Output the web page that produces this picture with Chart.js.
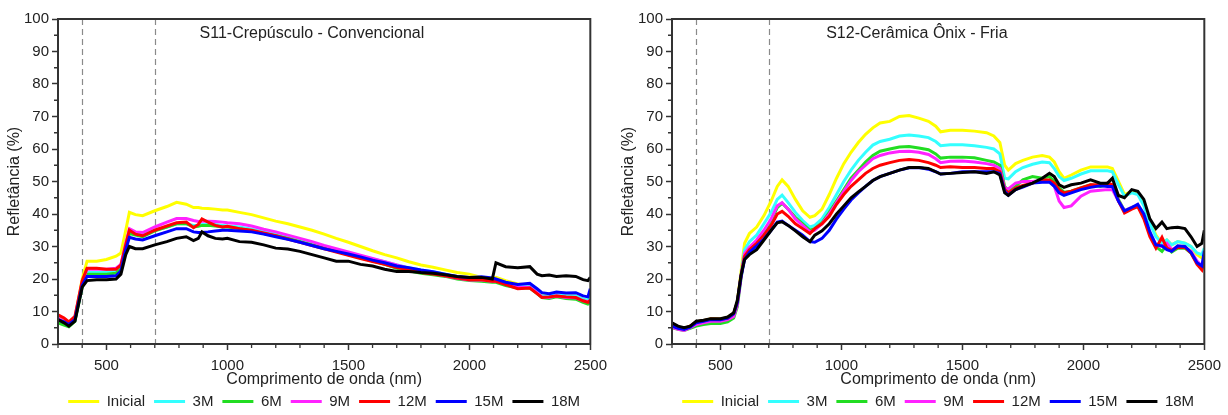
<!DOCTYPE html>
<html>
<head>
<meta charset="utf-8">
<script src="https://cdn.jsdelivr.net/npm/chart.js@4.4.1/dist/chart.umd.min.js"></script>
<style>
  html, body { margin: 0; padding: 0; background: #ffffff; }
  #wrap { display: flex; width: 1228px; height: 415px; }
  .cell { width: 614px; height: 415px; position: relative; }
</style>
</head>
<body>
<div id="wrap">
  <div class="cell"><canvas id="c1" width="614" height="415"></canvas></div>
  <div class="cell"><canvas id="c2" width="614" height="415"></canvas></div>
</div>
<script>
// ---------- DATA ----------
const seriesLabels = ['Inicial', '3M', '6M', '9M', '12M', '15M', '18M'];
const seriesColors = ['#ffff00', '#33ffff', '#22dd22', '#ff22ff', '#ff0000', '#0000ff', '#000000'];
const xTicks = [500, 1000, 1500, 2000, 2500];
const yTicks = [0, 10, 20, 30, 40, 50, 60, 70, 80, 90, 100];
const markerNm = [400, 700];
const titleS11 = 'S11-Crepúsculo - Convencional';
const titleS12 = 'S12-Cerâmica Ônix - Fria';

// S11 wavelengths (nm)
const wlS11 = [300,325,345,370,400,420,460,500,540,560,580,595,620,650,700,750,790,830,860,880,895,920,950,980,1000,1050,1100,1150,1200,1250,1300,1350,1400,1450,1500,1550,1600,1650,1700,1750,1800,1850,1900,1950,2000,2050,2095,2110,2150,2200,2250,2280,2300,2330,2360,2400,2440,2470,2490,2500];
const s11Inicial = [8.5,7.5,6.5,8,20,25.5,25.5,26,27,28,35,40.5,39.8,39.5,41,42.3,43.6,43,42,42,41.8,41.7,41.5,41.2,41.2,40.5,39.8,38.8,37.8,37,36,35,33.8,32.5,31.3,30,28.7,27.5,26.5,25.3,24.3,23.6,22.8,22,21.5,20.5,20.2,20.5,19.5,18.5,18.2,16.5,15.5,15,15.2,14.8,14.8,13.8,13.5,14.5];
const s11M3 = [7.5,6.5,5.8,7.5,18,22,22,22,22.5,23.5,30,34.5,34,33.5,35,36,37,37,36.5,36.5,36.8,36.8,36.8,36.5,36.3,36,35.3,34.5,33.7,33,32,31,30,29,28,27,26.2,25.3,24.3,23.5,22.8,22.2,21.5,20.7,20.2,20,19.7,19.7,18.8,17.8,17.8,16,14.8,14.8,15.2,14.8,14.8,13.8,13.5,14.5];
const s11M6 = [6.5,5.8,5.3,7,17.5,21.5,21.5,21.5,21.8,23,29.5,34,33.5,33,34.8,36,37,37,36,36.2,36.5,36.5,36.3,36,36,35.5,34.8,34,33.3,32.5,31.5,30.5,29.5,28.5,27.5,26.5,25.5,24.5,23.3,22.5,21.8,21.3,20.8,20,19.5,19.3,19,19,18,17.2,17.2,15.5,14.3,14,14.5,14,13.8,12.8,12.3,12.8];
const s11M9 = [8,7,6.2,8,19,23,23,23,23.3,24.5,31,35.5,34.5,34.3,36,37.5,38.6,38.6,38,37.7,37.8,37.8,37.7,37.5,37.3,37,36.3,35.3,34.5,33.5,32.5,31.5,30.3,29.3,28.3,27.3,26.3,25.3,24.3,23.3,22.5,21.8,21,20.2,19.7,19.7,19.3,19.4,18.5,17.5,17.5,15.8,14.5,14.3,14.8,14.3,14.2,13.3,13,13.5];
const s11M12 = [9,8,6.8,8.5,19.5,23.3,23.3,23,23,24.3,30.5,35,33.8,33.3,35,36.3,37.3,37.5,35.8,36.8,38.5,37.5,36.5,36,36.2,35.5,35,34.2,33.3,32.3,31.3,30.3,29.3,28.3,27.3,26.3,25.4,24.5,23.5,22.8,22,21.5,21,20.3,19.8,19.8,19.3,19.3,18.3,17,17.2,15.5,14.3,14.5,14.8,14.5,14.3,13.3,12.8,13.5];
const s11M15 = [7.5,6.8,6,7.5,18,20.8,20.8,20.8,21,22.5,29,32.8,32.3,32,33.3,34.5,35.5,35.5,34.5,34.3,34.3,34.5,34.8,35,35,34.8,34.5,33.8,33,32.2,31.3,30.3,29.3,28.5,27.7,26.8,25.8,25,24,23.5,22.8,22.2,21.5,20.8,20.5,20.7,20.3,20,19,18.3,18.7,17,15.8,15.5,16,15.7,15.8,14.8,14.5,17];
const s11M18 = [7.5,6.5,5.5,7,17.5,19.5,19.8,19.8,20,21.5,27.5,30,29.3,29.3,30.5,31.5,32.5,33,31.8,32.5,34.5,33.3,32.5,32.3,32.5,31.5,31.3,30.5,29.5,29.2,28.5,27.5,26.5,25.5,25.5,24.5,24,23,22.3,22.3,22,21.8,21.3,20.8,20.5,20.5,20,25,23.8,23.5,23.8,21.5,21,21.2,20.8,21,20.8,19.8,19.5,20.5];

// S12 wavelengths (nm)
const wlS12 = [300,325,350,375,400,430,460,500,530,555,570,585,600,620,650,680,710,735,755,780,810,840,870,890,920,950,980,1010,1040,1070,1100,1130,1160,1200,1240,1280,1320,1360,1390,1410,1450,1500,1550,1600,1630,1655,1675,1690,1720,1750,1790,1830,1860,1880,1900,1920,1950,1990,2030,2070,2100,2120,2145,2170,2200,2225,2250,2275,2300,2325,2345,2365,2390,2420,2445,2470,2490,2500];
const s12Inicial = [6,5.2,4.8,5.5,6.8,7.2,7.8,7.7,8.2,9.5,13,22,31,34,36,39.5,44,48.5,50.5,48.5,44.5,41,39,39.5,41.5,46,51,55.5,59,62,64.5,66.5,68,68.5,70,70.3,69.5,68.5,67,65.3,65.8,65.8,65.5,65,64,62,55,53.5,55.5,56.5,57.5,58,57.5,56,53,51,52,53.5,54.5,54.5,54.5,54,50,46,47,46.5,43,38,33.5,31,32,30.5,31.5,31,30,27.5,26.5,29];
const s12M3 = [5.5,4.8,4.5,5.2,6.3,6.8,7.3,7.3,7.8,9,12.5,21,29,31.5,33.5,37,40.5,44.5,45.8,43.5,40.5,38,36,36.5,38.5,42,46,50,53.5,56.5,59,61.2,62.3,63,64,64.3,64,63.5,62.3,61,61.3,61.3,61,60.5,60,58.5,51,50.8,53,54.3,55.3,56,55.8,54,51.5,50.3,51,52.3,53.3,53.3,53.3,53,49,45.5,46.5,46,42.5,37,33,31,32,30.5,31.5,31,30,28,27.5,29.5];
const s12M6 = [5,4.5,4.2,4.8,5.5,6,6.3,6.3,6.8,8,11.5,20,27.5,29.5,31.5,34.5,38,42,43.3,41.5,39,37,35,35.5,37.3,40.5,44,47.5,51,53.5,56,58,59.3,60,60.6,60.8,60.3,59.8,58.5,57.2,57.5,57.5,57.3,56.5,56,55,48.5,47,48.5,50.5,51.5,51,51.5,50,48,46.7,47,48,49,48.5,49,48.5,44.5,41,42,42.5,39.5,34,30,28.5,30.5,28.3,29.5,29.5,28,25,23.5,25.5];
const s12M9 = [5.2,4.5,4.2,5,6,6.5,7,7,7.5,8.5,12,20.5,27.8,29.8,32,35,38.5,42.5,43.5,41.5,38.5,36.5,34.5,35,37,40,43.5,47,50.3,53,55,57,58,58.8,59.2,59.3,59,58.3,57,55.8,56.2,56.3,56,55.5,55,54,48,47.7,49.5,50,50,50.3,50.3,48.5,44,42,42.5,45.5,47,47.3,47.5,47.5,44,41,42,42.5,39.5,34,30.5,30,31,29,30,29.8,28.5,25.5,24,26];
const s12M12 = [6,5.2,4.8,5.5,6.8,7.2,7.7,7.6,8,9.3,12.8,21,27,29,31,33.5,36.5,40,40.8,39.3,37,35.5,34,35.5,37,39.3,43,46,48.5,50.5,52.5,54,55,55.8,56.5,56.8,56.5,55.8,55,54.3,54.5,54.3,54.3,54,54,53,47.5,46.5,48,48.8,49.5,50.5,50.5,49.5,47.5,46.5,47,48,49,49,49.5,49,44,40.3,41.5,42.3,38.5,33,29.5,32.8,29.5,28.8,29.7,29.7,28,24.5,22.8,25.6];
const s12M15 = [5.5,4.8,4.5,5.2,6.5,7,7.5,7.5,8,9.3,12.8,20.5,26,28.2,30.2,32.3,35,37.5,37.8,36.5,35,33.5,31.5,31.3,32.5,35,38.5,41.5,44.3,46.5,48.5,50.3,51.5,52.5,53.5,54.2,54.3,53.8,53,52.3,52.5,53,53,53,53,52.5,47,45.8,47.5,48.3,49.5,49.8,49.8,48.5,46.5,45.7,46.5,47.5,48.2,48.7,48.5,48.5,44,41,42,43,40,34.5,30.5,30.2,29,28.5,30.2,30,28.2,25,24,28.7];
const s12M18 = [6.5,5.5,5,5.5,7,7.3,7.8,7.8,8.3,9.6,13.5,21,26,27.5,29,32,35,37.3,37.6,36.5,34.8,33,31.5,33.5,34.8,37,40,42.5,45,46.8,48.5,50.3,51.5,52.5,53.5,54.3,54.3,54,53,52.3,52.5,52.8,53,52.5,53,52,46.5,45.7,47.5,48.5,49.5,51,52.5,51.5,49,48.2,49,49.5,50.5,49.5,49.5,51,45.7,45,47.5,47,44.5,38.5,35.5,37.5,35.5,35.8,35.9,35.5,33,30,31,35];

// ---------- HELPERS ----------
const toPoints = (xs, ys) => xs.map((x, i) => ({ x: x, y: ys[i] }));

function buildDatasets(xs, seriesList) {
  return seriesList.map((ys, i) => ({
    label: seriesLabels[i],
    data: toPoints(xs, ys),
    borderColor: seriesColors[i],
    backgroundColor: seriesColors[i],
    borderWidth: 3,
    pointRadius: 0,
    tension: 0,
    fill: false,
    order: seriesList.length - i
  }));
}

const FONT = "'Liberation Sans', Arial, sans-serif";
const AXIS_COLOR = '#333333';
const TEXT_COLOR = '#222222';

const frameAndMarkers = {
  id: 'frameAndMarkers',
  beforeDatasetsDraw(chart) {
    const { ctx, chartArea, scales } = chart;
    ctx.save();
    ctx.strokeStyle = '#8a8a8a';
    ctx.lineWidth = 1.2;
    ctx.setLineDash([6, 4]);
    markerNm.forEach(v => {
      const px = Math.round(scales.x.getPixelForValue(v)) + 0.5;
      ctx.beginPath();
      ctx.moveTo(px, chartArea.top);
      ctx.lineTo(px, chartArea.bottom);
      ctx.stroke();
    });
    ctx.restore();
  },
  afterDatasetsDraw(chart) {
    const { ctx, chartArea, scales } = chart;
    ctx.save();
    ctx.strokeStyle = AXIS_COLOR;
    ctx.lineWidth = 2;
    ctx.strokeRect(chartArea.left, chartArea.top, chartArea.right - chartArea.left, chartArea.bottom - chartArea.top);
    // minor ticks
    ctx.lineWidth = 1.3;
    ctx.beginPath();
    for (let v = 300; v <= 2500; v += 100) {
      if (xTicks.includes(v)) continue;
      const px = scales.x.getPixelForValue(v);
      ctx.moveTo(px, chartArea.bottom);
      ctx.lineTo(px, chartArea.bottom + 4);
    }
    for (let v = 5; v < 100; v += 10) {
      const py = scales.y.getPixelForValue(v);
      ctx.moveTo(chartArea.left, py);
      ctx.lineTo(chartArea.left - 4, py);
    }
    ctx.stroke();
    // inner title
    const t = chart.options.plugins.innerTitle;
    ctx.fillStyle = TEXT_COLOR;
    ctx.font = '16px ' + FONT;
    ctx.textAlign = 'center';
    ctx.textBaseline = 'middle';
    ctx.fillText(t.text, chartArea.left + t.frac * (chartArea.right - chartArea.left), chartArea.top + 15);
    ctx.restore();
  }
};

function makeChart(canvasId, xs, seriesList, title, frac) {
  return new Chart(document.getElementById(canvasId), {
    type: 'line',
    data: { datasets: buildDatasets(xs, seriesList) },
    options: {
      responsive: false,
      animation: false,
      devicePixelRatio: 1,
      layout: { padding: { left: 0, right: 22, top: 19, bottom: 0 } },
      plugins: {
        tooltip: { enabled: false },
        innerTitle: { text: title, frac: frac },
        legend: {
          position: 'bottom',
          fullSize: false,
          maxHeight: 30,
          labels: {
            usePointStyle: true,
            pointStyle: 'line',
            pointStyleWidth: 31,
            boxHeight: 15,
            padding: 9,
            color: TEXT_COLOR,
            font: { family: FONT, size: 15 },
            sort: (a, b) => a.datasetIndex - b.datasetIndex
          }
        }
      },
      scales: {
        x: {
          type: 'linear',
          min: 300,
          max: 2500,
          afterBuildTicks: (scale) => { scale.ticks = xTicks.map(v => ({ value: v })); },
          afterFit: (scale) => { scale.height = 41; },
          ticks: { color: TEXT_COLOR, font: { family: FONT, size: 15 }, padding: 7, maxRotation: 0,
                   callback: (v) => String(v) },
          grid: { drawOnChartArea: false, tickLength: 6, tickColor: AXIS_COLOR, tickWidth: 1.5 },
          border: { display: true, color: AXIS_COLOR, width: 2 },
          title: { display: true, text: 'Comprimento de onda (nm)', color: TEXT_COLOR, font: { family: FONT, size: 16 }, padding: { top: 0, bottom: -4 } }
        },
        y: {
          type: 'linear',
          min: 0,
          max: 100,
          afterBuildTicks: (scale) => { scale.ticks = yTicks.map(v => ({ value: v })); },
          afterFit: (scale) => { scale.width = 58; },
          ticks: { color: TEXT_COLOR, font: { family: FONT, size: 15 }, padding: 3,
                   callback: (v) => String(v) },
          grid: { drawOnChartArea: false, tickLength: 6, tickColor: AXIS_COLOR, tickWidth: 1.5 },
          border: { display: true, color: AXIS_COLOR, width: 2 },
          title: { display: true, text: 'Refletância (%)', color: TEXT_COLOR, font: { family: FONT, size: 16 }, padding: { top: 5, bottom: 0 } }
        }
      }
    },
    plugins: [frameAndMarkers]
  });
}

makeChart('c1', wlS11, [s11Inicial, s11M3, s11M6, s11M9, s11M12, s11M15, s11M18], titleS11, 0.477);
makeChart('c2', wlS12, [s12Inicial, s12M3, s12M6, s12M9, s12M12, s12M15, s12M18], titleS12, 0.46);
</script>
</body>
</html>
